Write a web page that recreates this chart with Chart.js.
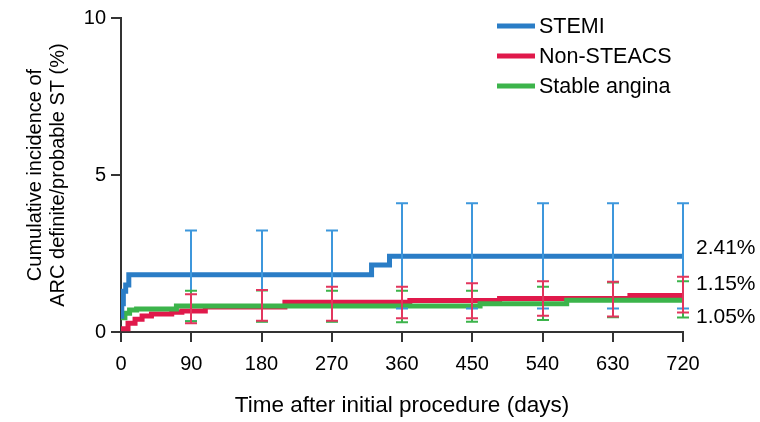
<!DOCTYPE html>
<html><head><meta charset="utf-8">
<script src="https://cdn.jsdelivr.net/npm/chart.js@4.4.0/dist/chart.umd.min.js"></script>
<style>html,body{margin:0;padding:0;background:#fff}#wrap{width:760px;height:422px}</style>
</head><body><div id="wrap"><canvas id="c" width="760" height="422"></canvas></div>
<script>
// ---- data ----
const seriesNames = ['STEMI', 'Non-STEACS', 'Stable angina'];
const endLabels = ['2.41%', '1.15%', '1.05%'];

const stemiDays = [0, 1, 3, 6, 10, 321, 344, 720];
const stemiPct  = [0.5, 0.9, 1.3, 1.5, 1.82, 2.13, 2.41, 2.41];

const nsteDays = [0, 9, 18, 27, 39, 65, 78, 108, 210, 370, 485, 652, 720];
const nstePct  = [0.1, 0.28, 0.41, 0.51, 0.57, 0.63, 0.67, 0.8, 0.95, 1.0, 1.07, 1.16, 1.16];

const saDays = [0, 5, 11, 20, 71, 460, 571, 720];
const saPct  = [0.45, 0.6, 0.7, 0.73, 0.83, 0.9, 1.01, 1.01];

const errDays   = [90, 180, 270, 360, 450, 540, 630, 720];
const stemiLow  = [0.34, 0.34, 0.34, 0.75, 0.75, 0.75, 0.75, 0.75];
const stemiHigh = [3.23, 3.23, 3.23, 4.1, 4.1, 4.1, 4.1, 4.1];
const nsteLow   = [0.28, 0.36, 0.36, 0.44, 0.44, 0.52, 0.49, 0.62];
const nsteHigh  = [1.2, 1.34, 1.44, 1.44, 1.55, 1.62, 1.6, 1.76];
const saLow     = [0.34, 0.33, 0.33, 0.31, 0.33, 0.38, 0.47, 0.46];
const saHigh    = [1.31, 1.32, 1.31, 1.31, 1.31, 1.44, 1.58, 1.62];

const xTickValues = [0, 90, 180, 270, 360, 450, 540, 630, 720];
const yTickValues = [0, 5, 10];

// ---- styling ----
const FONT = "'Liberation Sans', Arial, sans-serif";
const TEXT = '#000';
const colors = ['#2a7dc6', '#e0194b', '#3cb44b'];
const errColors = ['#3d97dc', '#e2365e', '#3cb44b'];
const toPts = (d, v) => d.map((x, i) => ({x: x, y: v[i]}));

const errorBarPlugin = {
  id: 'errorBars',
  afterDatasetsDraw(chart) {
    const {ctx, scales: {x, y}} = chart;
    const sets = [[stemiLow, stemiHigh, 0], [saLow, saHigh, 2], [nsteLow, nsteHigh, 1]];
    ctx.save();
    ctx.lineWidth = 2;
    const cap = 6;
    sets.forEach(([lo, hi, ci]) => {
      ctx.strokeStyle = errColors[ci];
      errDays.forEach((d, i) => {
        const px = Math.round(x.getPixelForValue(d));
        const y1 = y.getPixelForValue(lo[i]);
        const y2 = y.getPixelForValue(hi[i]);
        ctx.beginPath();
        ctx.moveTo(px, y1); ctx.lineTo(px, y2);
        ctx.moveTo(px - cap, y1); ctx.lineTo(px + cap, y1);
        ctx.moveTo(px - cap, y2); ctx.lineTo(px + cap, y2);
        ctx.stroke();
      });
    });
    ctx.restore();
  }
};

const annotPlugin = {
  id: 'annot',
  afterDraw(chart) {
    const {ctx, chartArea, scales: {y}} = chart;
    ctx.save();
    const finals = [stemiPct[stemiPct.length - 1], nstePct[nstePct.length - 1], saPct[saPct.length - 1]];
    const dy = [-8, -11, 17];
    ctx.fillStyle = TEXT;
    ctx.font = '21px ' + FONT;
    ctx.textBaseline = 'middle';
    ctx.textAlign = 'left';
    finals.forEach((v, i) => {
      ctx.fillText(endLabels[i], chartArea.right + 13, y.getPixelForValue(v) + dy[i]);
    });
    const lx = chartArea.right - 186;
    const ly = [26, 56, 86];
    ctx.font = '21.5px ' + FONT;
    seriesNames.forEach((n, i) => {
      ctx.strokeStyle = colors[i];
      ctx.lineWidth = 5;
      ctx.beginPath();
      ctx.moveTo(lx, ly[i]); ctx.lineTo(lx + 38, ly[i]);
      ctx.stroke();
      ctx.fillStyle = TEXT;
      ctx.fillText(n, lx + 42, ly[i] + 1);
    });
    ctx.restore();
  }
};

new Chart(document.getElementById('c'), {
  type: 'line',
  data: {
    datasets: [
      {label: seriesNames[0], data: toPts(stemiDays, stemiPct), borderColor: colors[0], order: 0},
      {label: seriesNames[1], data: toPts(nsteDays, nstePct), borderColor: colors[1], order: 2},
      {label: seriesNames[2], data: toPts(saDays, saPct), borderColor: colors[2], order: 1}
    ].map(d => Object.assign(d, {stepped: true, borderWidth: 5, pointRadius: 0, fill: false, borderCapStyle: 'butt', borderJoinStyle: 'miter'}))
  },
  options: {
    responsive: false,
    animation: false,
    layout: {padding: {top: 18, right: 77, left: 0, bottom: 0}},
    plugins: {legend: {display: false}, tooltip: {enabled: false}},
    scales: {
      x: {
        type: 'linear', min: 0, max: 720,
        afterBuildTicks: s => { s.ticks = xTickValues.map(v => ({value: v})); },
        afterFit: s => { s.height = 90; },
        ticks: {color: TEXT, font: {family: FONT, size: 20}, padding: 10, maxRotation: 0, autoSkip: false},
        grid: {drawOnChartArea: false, drawTicks: true, tickLength: 10, color: '#333', lineWidth: 2},
        border: {display: true, color: '#333', width: 2},
        title: {display: true, text: 'Time after initial procedure (days)', color: TEXT,
                font: {family: FONT, size: 22.5, lineHeight: 1.2}, padding: {top: 0, bottom: 3}}
      },
      y: {
        type: 'linear', min: 0, max: 10,
        afterBuildTicks: s => { s.ticks = yTickValues.map(v => ({value: v})); },
        afterFit: s => { s.width = 121; },
        ticks: {color: TEXT, font: {family: FONT, size: 20}, padding: 5},
        grid: {drawOnChartArea: false, drawTicks: true, tickLength: 10, color: '#333', lineWidth: 2},
        border: {display: true, color: '#333', width: 2},
        title: {display: true, text: ['Cumulative incidence of', 'ARC definite/probable ST (%)'], color: TEXT,
                font: {family: FONT, size: 20, lineHeight: 1.15}, padding: {top: 24, bottom: 0}}
      }
    }
  },
  plugins: [errorBarPlugin, annotPlugin]
});
</script></body></html>
